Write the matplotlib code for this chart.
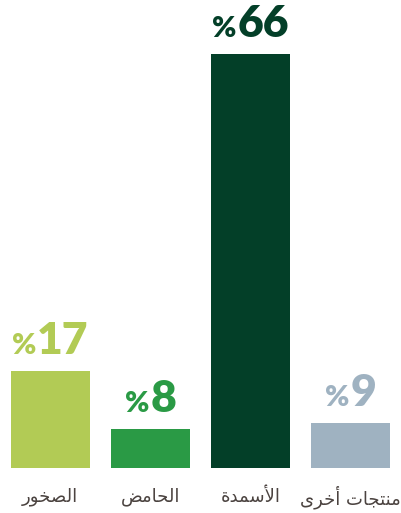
import matplotlib
matplotlib.use('Agg')
import matplotlib.pyplot as plt

categories = ['الصخور', 'الحامض', 'الأسمدة', 'منتجات أخرى']
shares = [17, 8, 66, 9]
colors = ['#b2cb55', '#2a9a45', '#033f28', '#9fb2c1']

# isolated, final, initial, medial presentation forms
FORMS = {
    'ا': (0xFE8D, 0xFE8E, None, None),
    'أ': (0xFE83, 0xFE84, None, None),
    'ل': (0xFEDD, 0xFEDE, 0xFEDF, 0xFEE0),
    'ص': (0xFEB9, 0xFEBA, 0xFEBB, 0xFEBC),
    'خ': (0xFEA5, 0xFEA6, 0xFEA7, 0xFEA8),
    'و': (0xFEED, 0xFEEE, None, None),
    'ر': (0xFEAD, 0xFEAE, None, None),
    'ح': (0xFEA1, 0xFEA2, 0xFEA3, 0xFEA4),
    'م': (0xFEE1, 0xFEE2, 0xFEE3, 0xFEE4),
    'ض': (0xFEBD, 0xFEBE, 0xFEBF, 0xFEC0),
    'س': (0xFEB1, 0xFEB2, 0xFEB3, 0xFEB4),
    'د': (0xFEA9, 0xFEAA, None, None),
    'ة': (0xFE93, 0xFE94, None, None),
    'ن': (0xFEE5, 0xFEE6, 0xFEE7, 0xFEE8),
    'ت': (0xFE95, 0xFE96, 0xFE97, 0xFE98),
    'ج': (0xFE9D, 0xFE9E, 0xFE9F, 0xFEA0),
    'ى': (0xFEEF, 0xFEF0, None, None),
}
LAM_ALEF = {'ا': (0xFEFB, 0xFEFC, None, None), 'أ': (0xFEF7, 0xFEF8, None, None)}


def shape(text):
    """join arabic letters and put them in visual (left to right) order."""
    tokens = []
    i = 0
    while i < len(text):
        c = text[i]
        if c == 'ل' and i + 1 < len(text) and text[i + 1] in LAM_ALEF:
            tokens.append(LAM_ALEF[text[i + 1]])
            i += 2
            continue
        tokens.append(FORMS.get(c, c))
        i += 1
    out = []
    for k, t in enumerate(tokens):
        if isinstance(t, str):
            out.append(t)
            continue
        prev = tokens[k - 1] if k > 0 else None
        nxt = tokens[k + 1] if k + 1 < len(tokens) else None
        jp = isinstance(prev, tuple) and prev[2] is not None
        jn = t[2] is not None and isinstance(nxt, tuple)
        if jp and jn:
            code = t[3]
        elif jp:
            code = t[1]
        elif jn:
            code = t[2]
        else:
            code = t[0]
        out.append(chr(code))
    return ''.join(out)[::-1]


fig = plt.figure(figsize=(4.01, 5.13), dpi=100)
ax = fig.add_axes([0, 45 / 513, 1, 468 / 513])
x = range(len(shares))
ax.bar(x, shares, width=0.79, color=colors)
ax.set_xlim(-0.5, 3.5)
# the original axis does not start at zero
ax.set_ylim(2, 74.3)
ax.axis('off')

nums, pcts = [], []
for i, v in enumerate(shares):
    n = ax.annotate(str(v), (i, v), xytext=(0, 17), textcoords='offset pixels',
                    ha='left', va='baseline', fontsize=32, fontweight='heavy',
                    family='Lato', color=colors[i])
    p = ax.annotate('%', (i, v), xytext=(0, 17), textcoords='offset pixels',
                    ha='right', va='baseline', fontsize=21, fontweight='heavy',
                    family='Lato', color=colors[i])
    nums.append(n)
    pcts.append(p)
    ax.annotate(shape(categories[i]), (i, 2), xytext=(0, -29), textcoords='offset pixels',
                ha='center', va='center', fontsize=13, family='DejaVu Sans',
                color='#4b4340')

fig.canvas.draw()
r = fig.canvas.get_renderer()
for n, p in zip(nums, pcts):
    wn = n.get_window_extent(r).width
    wp = p.get_window_extent(r).width
    dx = -(wn + wp + 1) / 2 + wp
    p.xyann = (dx, 17)
    n.xyann = (dx + 1, 17)

fig.savefig('out.png', dpi=100)
